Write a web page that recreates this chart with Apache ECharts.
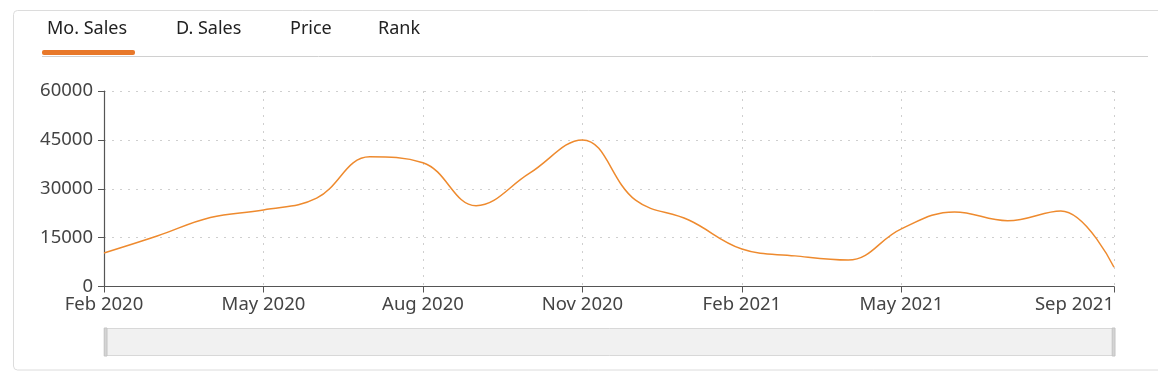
<!DOCTYPE html>
<html>
<head>
<meta charset="utf-8">
<script src="https://cdn.jsdelivr.net/npm/echarts@6/dist/echarts.min.js"></script>
<style>
  html, body { margin: 0; padding: 0; background: #fff; }
  #chart { width: 1158px; height: 376px; }
</style>
</head>
<body>
<div id="chart"></div>
<script>
var months = ['Feb 2020', 'Mar 2020', 'Apr 2020', 'May 2020', 'Jun 2020', 'Jul 2020',
  'Aug 2020', 'Sep 2020', 'Oct 2020', 'Nov 2020', 'Dec 2020', 'Jan 2021',
  'Feb 2021', 'Mar 2021', 'Apr 2021', 'May 2021', 'Jun 2021', 'Jul 2021',
  'Aug 2021', 'Sep 2021'];
var moSales = [10300, 15500, 21200, 23500, 27100, 39800,
  38000, 24800, 34700, 45000, 26500, 20400,
  11500, 9400, 8100, 17700, 22900, 20200,
  23200, 5900];
var tabs = ['Mo. Sales', 'D. Sales', 'Price', 'Rank'];
var tabX = [47, 176, 290, 378];

var chart = echarts.init(document.getElementById('chart'));

// show every third month, but drop the one that would collide with the last label
function showTick(i) {
  return (i % 3 === 0 && i < months.length - 2) || i === months.length - 1;
}

var graphics = [
  {
    type: 'rect', silent: true,
    shape: { x: 13.5, y: 10.5, width: 1160, height: 359.5, r: 4 },
    style: { fill: 'none', stroke: '#dcdcdc', lineWidth: 1 }
  },
  {
    type: 'line', silent: true,
    shape: { x1: 42, y1: 56.5, x2: 1148, y2: 56.5 },
    style: { stroke: '#d0d0d0', lineWidth: 1 }
  },
  {
    type: 'rect', silent: true,
    shape: { x: 42, y: 50, width: 93, height: 5, r: 2 },
    style: { fill: '#E8782A' }
  }
];
tabs.forEach(function (t, i) {
  graphics.push({
    type: 'text', silent: true,
    left: tabX[i], top: 20,
    style: { text: t, fill: '#222', font: '18px "Noto Sans", sans-serif' }
  });
});

var option = {
  animation: false,
  textStyle: { fontFamily: '"Noto Sans", sans-serif' },
  graphic: graphics,
  grid: { left: 104, right: 44, top: 91, bottom: 89.5 },
  xAxis: {
    type: 'category',
    data: months,
    boundaryGap: false,
    axisLine: { lineStyle: { color: '#555', width: 1.2 } },
    axisTick: { interval: showTick, length: 6, lineStyle: { color: '#555' } },
    axisLabel: {
      interval: showTick, color: '#444', fontSize: 18.5, margin: 9,
      alignMaxLabel: 'right'
    },
    splitLine: {
      show: true, interval: showTick,
      lineStyle: { color: '#cfcfcf', type: [2, 6] }
    }
  },
  yAxis: {
    type: 'value',
    min: 0, max: 60000, interval: 15000,
    axisLine: { show: true, lineStyle: { color: '#555', width: 1.2 } },
    axisTick: { show: true, length: 6, lineStyle: { color: '#555' } },
    axisLabel: {
      color: '#444', fontSize: 18.5, margin: 11,
      formatter: function (v) { return String(v); }
    },
    splitLine: { lineStyle: { color: '#cfcfcf', type: [2, 6] } }
  },
  dataZoom: [{
    type: 'slider',
    left: 104, right: 44, top: 328, height: 28,
    showDataShadow: false,
    showDetail: false,
    brushSelect: false,
    moveHandleSize: 0,
    backgroundColor: '#f4f4f4',
    borderColor: '#d8d8d8',
    fillerColor: 'rgba(0,0,0,0.01)',
    handleIcon: 'path://M0,0 H10 V100 H0 Z',
    handleSize: '100%',
    handleStyle: { color: '#d4d4d4', borderColor: '#c4c4c4' }
  }],
  series: [{
    type: 'line',
    data: moSales,
    smooth: 0.4,
    symbol: 'none',
    lineStyle: { color: '#EE8A2E', width: 1.5 }
  }]
};
chart.setOption(option);
</script>
</body>
</html>
